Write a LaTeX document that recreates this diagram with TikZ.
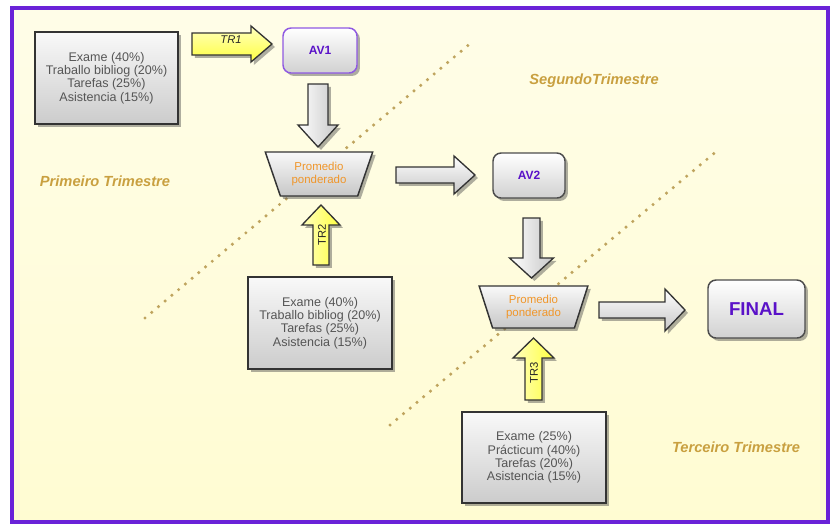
\documentclass[tikz,border=0pt]{standalone}
\usepackage{fontspec}
\setmainfont{Liberation Sans}
\usetikzlibrary{shapes.geometric,shadows}
\definecolor{frame}{HTML}{6A22D8}
\definecolor{bgyel}{HTML}{FFFCD2}
\definecolor{bgyel2}{HTML}{FFFDE8}
\definecolor{lbl}{HTML}{C9A040}
\definecolor{boxtxt}{HTML}{555555}
\definecolor{avtxt}{HTML}{5A12C8}
\definecolor{orangetxt}{HTML}{F0962A}
\definecolor{dotc}{HTML}{BFA45E}
\tikzset{
  shad/.style={drop shadow={shadow xshift=2.2pt,shadow yshift=-2.2pt,opacity=0.45,fill=black!70}},
  graybox/.style={draw=black!80,line width=1.1pt,top color=white!95!gray,bottom color=black!20,shad,
     align=center,text=boxtxt,font=\fontsize{9.4}{9.9}\selectfont,inner sep=0pt},
  avbox/.style={draw=black!70,line width=1.1pt,rounded corners=6pt,top color=white,bottom color=black!18,shad,
     text=avtxt,font=\fontsize{9}{10}\selectfont\bfseries,inner sep=0pt},
  trap/.style={trapezium,shape border rotate=180,trapezium stretches=true,draw=black!80,line width=1.1pt,
     top color=white!95!gray,bottom color=black!22,shad,align=center,text=orangetxt,
     font=\fontsize{8.6}{9.6}\selectfont,inner sep=0pt},
  garrow/.style={draw=black!80,line width=1pt,top color=white,bottom color=black!22,shad},
  garrowv/.style={draw=black!80,line width=1pt,left color=white,right color=black!22,shad},
  yarrow/.style={draw=black!80,line width=1pt,top color=yellow!25,bottom color=yellow!75,shad},
  yarrowv/.style={draw=black!80,line width=1pt,left color=yellow!25,right color=yellow!75,shad},
  trimlbl/.style={text=lbl,font=\fontsize{11}{12}\selectfont\bfseries\itshape},
  dotline/.style={dotc,line width=2.6pt,line cap=round,dash pattern=on 0pt off 6.6pt},
}
% horizontal right arrow: x1, x2, yc, shaft half, head half, head length, style
\newcommand\rarrowpath[7]{%
  \path[#7] ({#1},{#3-#4}) -- ({#2-#6},{#3-#4}) -- ({#2-#6},{#3-#5}) -- ({#2},{#3})
    -- ({#2-#6},{#3+#5}) -- ({#2-#6},{#3+#4}) -- ({#1},{#3+#4}) -- cycle;}
% vertical arrow: xc, y1 (tail), y2 (tip), shaft half, head half, head length (signed), style
\newcommand\varrowpath[7]{%
  \path[#7] ({#1-#4},{#2}) -- ({#1-#4},{#3-#6}) -- ({#1-#5},{#3-#6}) -- ({#1},{#3})
    -- ({#1+#5},{#3-#6}) -- ({#1+#4},{#3-#6}) -- ({#1+#4},{#2}) -- cycle;}
\begin{document}
\begin{tikzpicture}[x=0.75pt,y=-0.75pt]
\useasboundingbox (0,0) rectangle (837,526);
\fill[white] (0,0) rectangle (837,526);
\shade[top color=bgyel2,bottom color=bgyel] (12,8) rectangle (828,522);
\draw[frame,line width=2.4pt] (12,8) rectangle (828,522);

% dotted diagonals
\coordinate (d1a) at (145,318); \coordinate (d1b) at (472,42);
\coordinate (d2a) at (390,425); \coordinate (d2b) at (718,150);
\draw[dotline] (d1a) -- (d1b);
\draw[dotline] (d2a) -- (d2b);

% labels
\node[trimlbl] (t1) at (105,181) {Primeiro Trimestre};
\node[trimlbl] (t2) at (594,81) {SegundoTrimestre};
\node[trimlbl] (t3) at (736,447) {Terceiro Trimestre};

% boxes
\node[graybox,minimum width=107pt,minimum height=69pt] (b1) at (106.5,78)
  {Exame (40\%)\\Traballo bibliog (20\%)\\Tarefas (25\%)\\Asistencia (15\%)};
\node[graybox,minimum width=108pt,minimum height=69pt] (b2) at (320,323)
  {Exame (40\%)\\Traballo bibliog (20\%)\\Tarefas (25\%)\\Asistencia (15\%)};
\node[graybox,minimum width=108pt,minimum height=68pt] (b3) at (534,457.5)
  {Exame (25\%)\\Prácticum (40\%)\\Tarefas (20\%)\\Asistencia (15\%)};

\node[avbox,draw=frame!75,minimum width=55.5pt,minimum height=33.75pt] (av1) at (320,50.5) {AV1};
\node[avbox,minimum width=54pt,minimum height=33.75pt] (av2) at (529,175.5) {AV2};
\node[avbox,minimum width=72.75pt,minimum height=43.5pt,font=\fontsize{14}{16}\selectfont\bfseries] (fin) at (756.5,309) {FINAL};

\node[trap,minimum width=81pt,minimum height=33pt,trapezium angle=65.5] (p1) at (319,174) {Promedio\\ponderado};
\node[trap,minimum width=82pt,minimum height=31.5pt,trapezium angle=69] (p2) at (533.5,307) {Promedio\\ponderado};

% block arrows
\rarrowpath{192}{272}{44}{11}{18}{21}{yarrow}
\node[font=\fontsize{8.4}{9}\selectfont\itshape,text=black!85] (tr1) at (231,40) {TR1};
\varrowpath{318}{84}{147}{10}{20}{22}{garrowv}
\varrowpath{321}{265}{205}{8}{19}{-20}{yarrowv}
\node[font=\fontsize{8.4}{9}\selectfont,text=black!85,rotate=90] (tr2) at (322,235) {TR2};
\rarrowpath{396}{475}{175}{8}{19}{21}{garrow}
\varrowpath{531.5}{218}{278}{8.5}{22}{20}{garrowv}
\rarrowpath{599}{685}{310}{8}{21}{20}{garrow}
\varrowpath{533.5}{400}{338}{8.5}{20.5}{-20}{yarrowv}
\node[font=\fontsize{8.4}{9}\selectfont,text=black!85,rotate=90] (tr3) at (534,373) {TR3};
\end{tikzpicture}
\end{document}
